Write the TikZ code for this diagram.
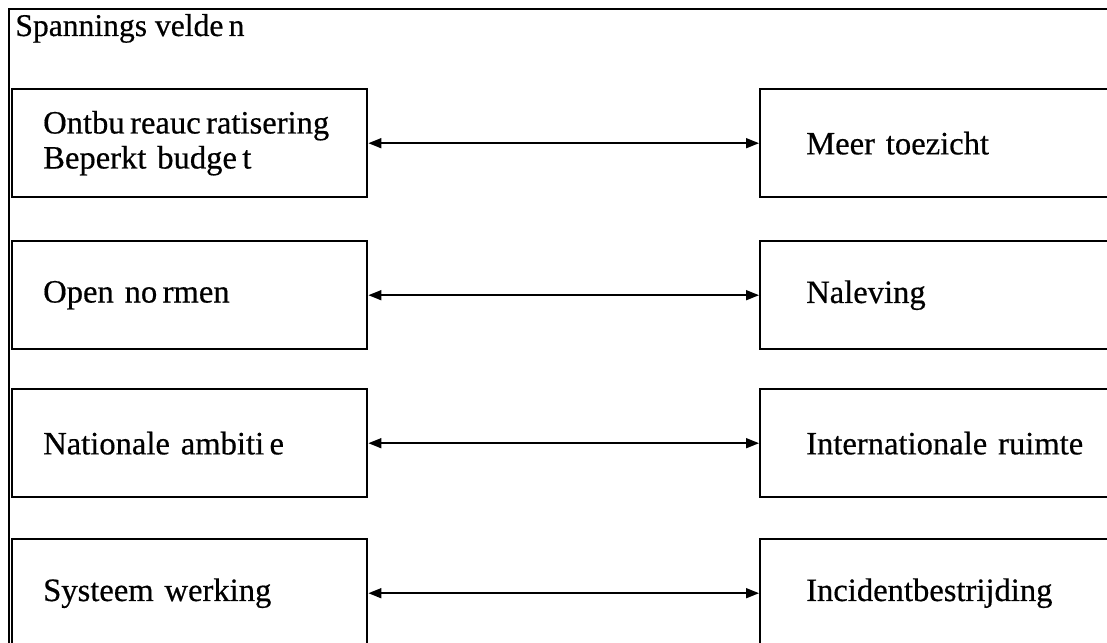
\documentclass[tikz,border=0pt]{standalone}
\usepackage{fontspec}
\setmainfont{Liberation Serif}[FakeBold=0.5]
\usetikzlibrary{arrows.meta}
\tikzset{
	vak/.style={draw=black,line width=1.2pt,rectangle,anchor=north west,minimum height=54pt,
		align=left,font=\fontsize{16.3}{17.5}\selectfont},
	linksvak/.style={vak,inner xsep=15.5pt,text width=146.5pt},
	rechtsvak/.style={vak,inner xsep=23pt,text width=154pt},
	spanning/.style={{Triangle[length=6.5pt,width=5pt]}-{Triangle[length=6.5pt,width=5pt]},line width=0.8pt}
}
\begin{document}
\begin{tikzpicture}[x=0.5pt,y=-0.5pt]
	\useasboundingbox (0,0) rectangle (1107,642);
	\clip (0,0) rectangle (1107,642);
	\draw[line width=0.6pt] (9,9) rectangle (1130,670);
	\node[anchor=base west,inner sep=0pt,font=\fontsize{15.8}{17.5}\selectfont] (titel) at (15,36) {Spannings velde\,n};
	% links
	\node[linksvak] (ontbu) at (11,88) {Ontbu\,reauc\,ratisering\\Beperkt budge\,t};
	\node[linksvak] (open) at (11,240) {Open no\,rmen};
	\node[linksvak] (nationaal) at (11,388) {Nationale ambiti\,e};
	\node[linksvak] (systeem) at (11,538) {Systeem werking};
	% rechts
	\node[rechtsvak] (toezicht) at (759,88) {Meer toezicht};
	\node[rechtsvak] (naleving) at (759,240) {Naleving};
	\node[rechtsvak] (internationaal) at (759,388) {Internationale ruimte};
	\node[rechtsvak] (incident) at (759,538) {Incidentbestrijding};
	% pijlen
	\draw[spanning] (ontbu.east) -- (toezicht.west);
	\draw[spanning] (open.east) -- (naleving.west);
	\draw[spanning] (nationaal.east) -- (internationaal.west);
	\draw[spanning] (systeem.east) -- (incident.west);
\end{tikzpicture}
\end{document}
